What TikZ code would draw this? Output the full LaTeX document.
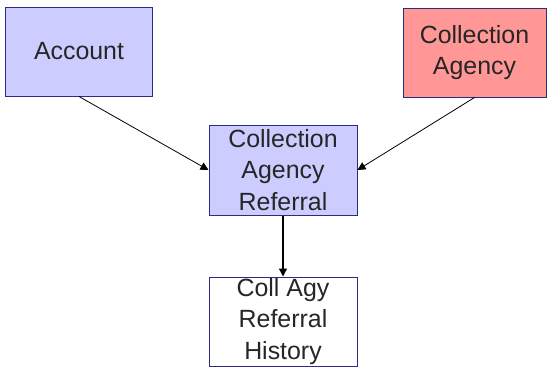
\documentclass[tikz,border=0pt]{standalone}
\usepackage{fontspec}
\setmainfont{Liberation Sans}
\usetikzlibrary{arrows.meta}
\definecolor{boxblue}{HTML}{CCCCFF}
\definecolor{boxred}{HTML}{FF9797}
\definecolor{edgeblue}{HTML}{2B2B80}
\tikzset{
  entity/.style={draw=edgeblue, line width=1bp, rectangle, inner sep=0pt,
    align=center, font=\fontsize{25}{31.5}\selectfont, text=black!85},
  conn/.style={line width=0.8bp, -{Triangle[length=8bp,width=8bp]}}
}
\begin{document}
\begin{tikzpicture}[x=1bp,y=-1bp]
\useasboundingbox (0,0) rectangle (547,370);
\node[entity, fill=boxblue, minimum width=146bp, minimum height=89bp] (acc) at (79,51.5) {Account};
\node[entity, fill=boxred, minimum width=143bp, minimum height=89bp] (ca) at (474.5,52.5) {Collection\\Agency};
\node[entity, fill=boxblue, minimum width=148bp, minimum height=90bp] (ref) at (283,170) {Collection\\Agency\\Referral};
\node[entity, fill=white, minimum width=148bp, minimum height=89bp] (hist) at (283,321.5) {Coll Agy\\Referral\\History};
\draw[conn] (acc.south) -- (ref.west);
\draw[conn] (ca.south) -- (ref.east);
\draw[conn, line width=1.3bp] (ref.south) -- (hist.north);
\end{tikzpicture}
\end{document}
